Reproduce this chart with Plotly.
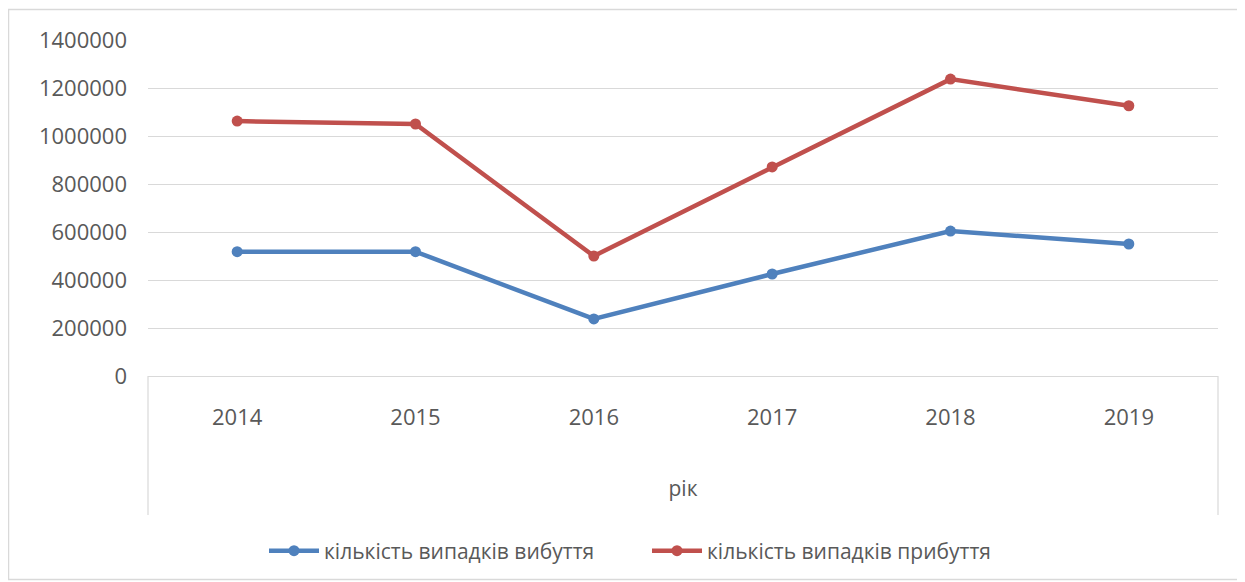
import plotly.graph_objects as go

years = ["2014", "2015", "2016", "2017", "2018", "2019"]
departures = [518000, 518000, 238000, 425000, 604000, 550000]
arrivals = [1062000, 1050000, 500000, 871000, 1237000, 1126000]
y_ticks = [0, 200000, 400000, 600000, 800000, 1000000, 1200000, 1400000]
name_dep = "кількість випадків вибуття"
name_arr = "кількість випадків прибуття"
x_title = "рік"

# page body has an 8px margin; figure is sized/positioned to compensate
OFF = 8
W, H = 1245 - OFF, 582 - OFF
L, R, T, B = 140, 27, 32, 206
pw, ph = W - L - R, H - T - B

def px_x(sx):
    return (sx - OFF - L) / pw

def px_y(sy):
    return (H - B - (sy - OFF)) / ph

font = dict(family="Open Sans, Noto Sans, sans-serif", size=21, color="#595959")
tick_font = dict(family="Open Sans, Noto Sans, sans-serif", size=22, color="#595959")

fig = go.Figure()
fig.add_trace(go.Scatter(x=years, y=departures, name=name_dep, mode="lines+markers",
                         line=dict(color="#4F81BD", width=4.5),
                         marker=dict(color="#4F81BD", size=11)))
fig.add_trace(go.Scatter(x=years, y=arrivals, name=name_arr, mode="lines+markers",
                         line=dict(color="#C0504D", width=4.5),
                         marker=dict(color="#C0504D", size=11)))

grid = "#D9D9D9"
shapes = [
    dict(type="line", xref="x domain", yref="y domain", x0=0, x1=0, y0=0, y1=px_y(515),
         line=dict(color=grid, width=1.2)),
    dict(type="line", xref="x domain", yref="y domain", x0=1, x1=1, y0=0, y1=px_y(515),
         line=dict(color=grid, width=1.2)),
    dict(type="rect", xref="paper", yref="paper", x0=px_x(8.5), x1=px_x(1240.5),
         y0=px_y(579.5), y1=px_y(9.5), line=dict(color="#D9D9D9", width=1.5)),
]

fig.update_layout(
    width=W, height=H,
    margin=dict(l=L, r=R, t=T, b=B, autoexpand=False),
    paper_bgcolor="white", plot_bgcolor="white",
    font=font,
    showlegend=True,
    legend=dict(orientation="h", x=px_x(264), xanchor="left", y=px_y(551), yanchor="middle",
                font=font, entrywidth=318, entrywidthmode="pixels", itemwidth=50,
                bgcolor="rgba(0,0,0,0)"),
    shapes=shapes,
    xaxis=dict(type="category", range=[-0.5, 5.5], showgrid=False, showline=True,
               linecolor=grid, linewidth=1.2, zeroline=False, ticks="",
               tickfont=tick_font, ticklabelstandoff=21,
               title=dict(text=x_title, font=font, standoff=51)),
    yaxis=dict(range=[0, 1400000], tickvals=y_ticks, ticktext=[str(v) for v in y_ticks],
               showgrid=True, gridcolor=grid, gridwidth=1.2, zeroline=False,
               showline=False, ticks="", tickfont=tick_font, ticklabelstandoff=20),
)

fig.write_html("out.html")
